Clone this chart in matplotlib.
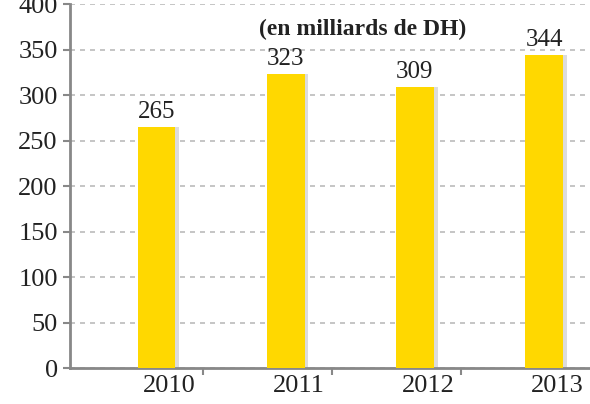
import matplotlib.pyplot as plt

years = ["2010", "2011", "2012", "2013"]
values = [265, 323, 309, 344]
y_ticks = [0, 50, 100, 150, 200, 250, 300, 350, 400]
subtitle = "(en milliards de DH)"

plt.rcParams["font.family"] = ["Liberation Serif", "DejaVu Serif"]

fig = plt.figure(figsize=(5.9, 4.04), dpi=100)
ax = fig.add_axes([0.119, 0.089, 0.93, 0.901])

x = list(range(len(years)))
# soft shadow on the right of each bar
ax.bar([i + 0.03 for i in x], values, width=0.29, color="#dcdcdc", zorder=2)
ax.bar(x, values, width=0.29, color="#FFD800", zorder=3)

for i, v in zip(x, values):
    ax.text(i, v + 4, str(v), ha="center", va="bottom", fontsize=18, color="#222222", zorder=4)

ax.set_xlim(-0.67, 3.58)
ax.set_ylim(0, 400)
ax.set_yticks(y_ticks)
ax.set_yticklabels([str(t) for t in y_ticks], fontsize=19, color="#222222")
ax.set_xticks([i + 0.1 for i in x])
ax.set_xticklabels(years, fontsize=19, color="#222222")
ax.tick_params(axis="x", length=0, pad=5)
ax.set_xticks([i + 0.36 for i in x[:-1]], minor=True)
ax.tick_params(axis="x", which="minor", length=5, color="#888888", width=1.5)
ax.tick_params(axis="y", length=5, color="#888888", width=1.5, pad=4)

ax.yaxis.grid(True, linestyle=(0, (3, 3)), color="#bbbbbb", linewidth=1.2, zorder=0)
ax.set_axisbelow(True)

for s in ["top", "right"]:
    ax.spines[s].set_visible(False)
for s in ["left", "bottom"]:
    ax.spines[s].set_color("#888888")
    ax.spines[s].set_linewidth(2)

fig.text(0.615, 0.928, subtitle, ha="center", va="center", fontsize=17,
         fontweight="bold", color="#222222")

fig.savefig("out.png", dpi=100)
